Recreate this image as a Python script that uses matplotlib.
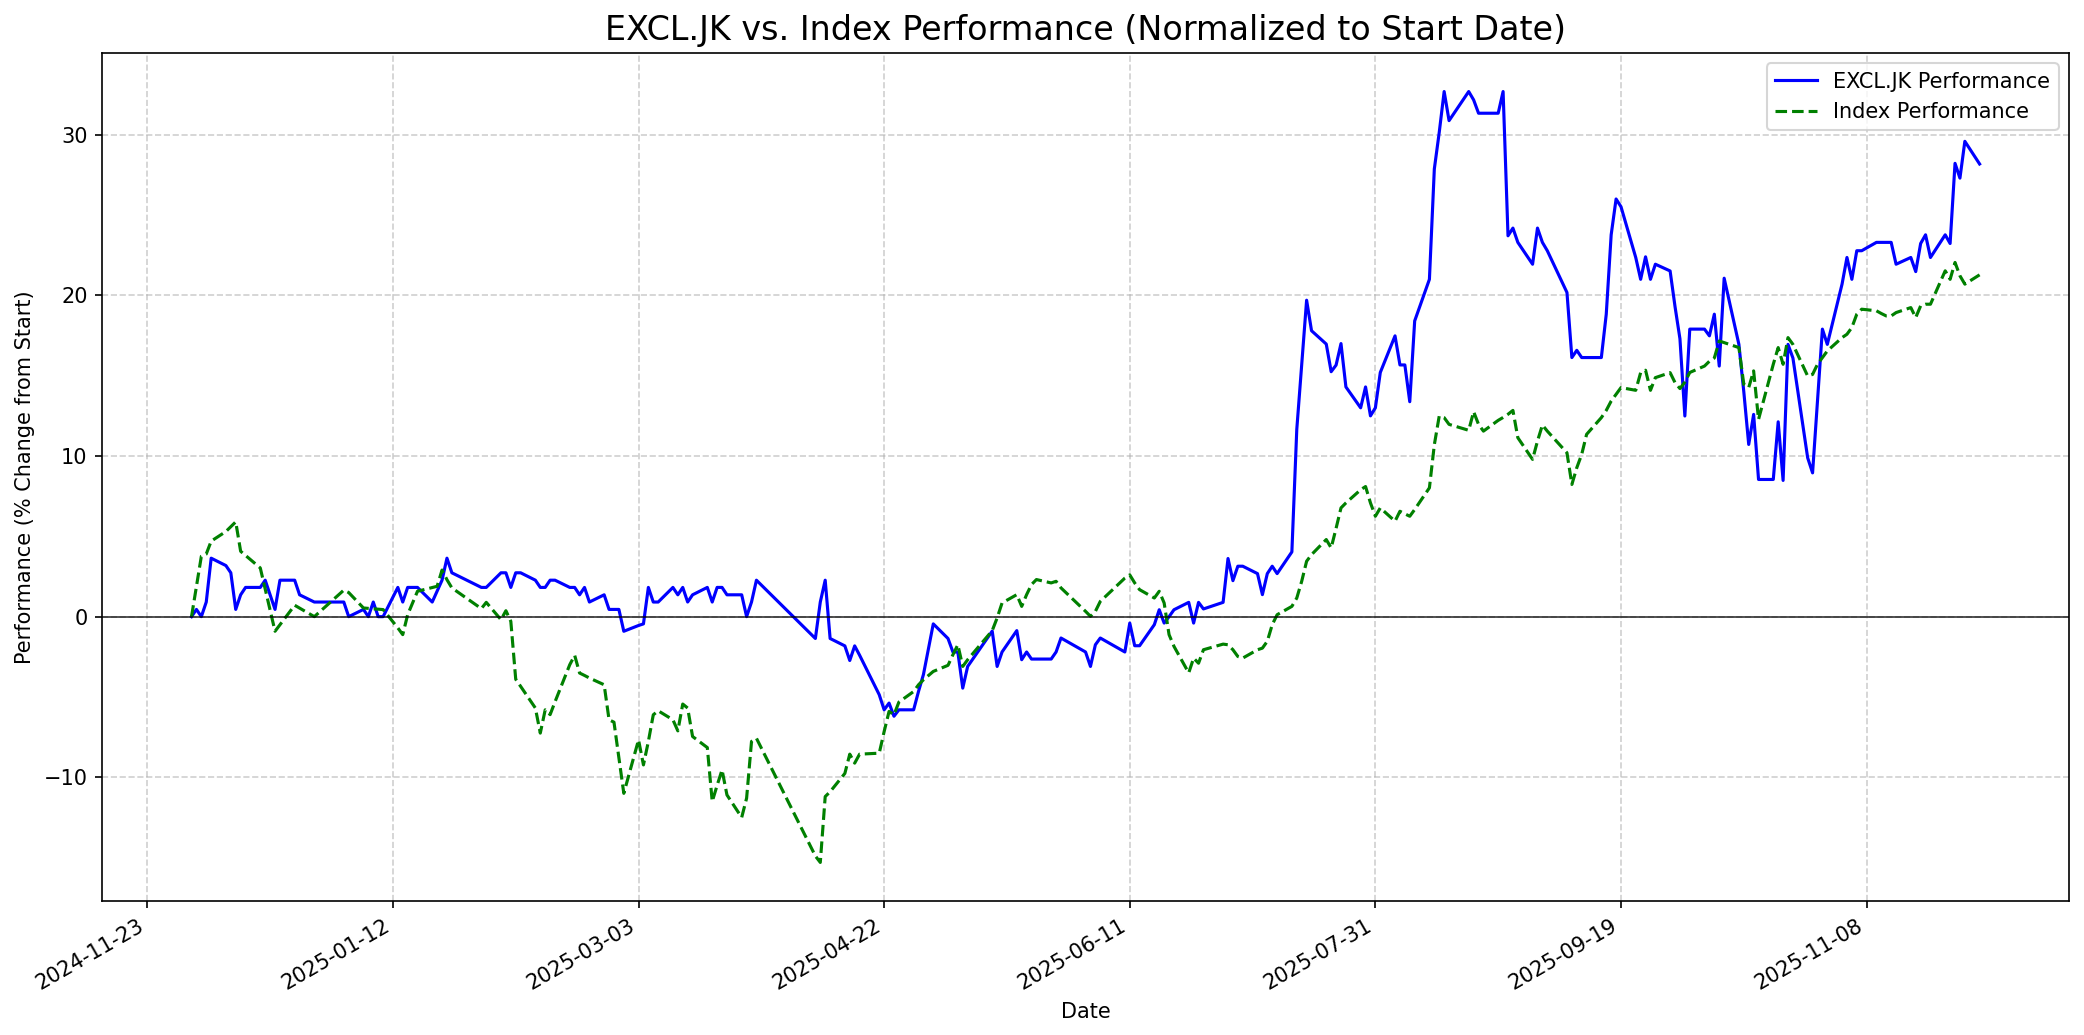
import matplotlib
matplotlib.use("Agg")
import matplotlib.pyplot as plt
import matplotlib.dates as mdates
import pandas as pd

# EXCL.JK, % change from 2024-12-02
exc_dates = [
    "2024-12-02", "2024-12-03", "2024-12-04", "2024-12-05", "2024-12-06", "2024-12-09", "2024-12-10",
    "2024-12-11", "2024-12-12", "2024-12-13", "2024-12-16", "2024-12-17", "2024-12-19", "2024-12-20",
    "2024-12-23", "2024-12-24", "2024-12-27",
    "2025-01-02", "2025-01-03", "2025-01-06", "2025-01-07", "2025-01-08", "2025-01-09", "2025-01-10",
    "2025-01-13", "2025-01-14", "2025-01-15", "2025-01-17", "2025-01-20", "2025-01-22", "2025-01-23",
    "2025-01-24", "2025-01-30", "2025-01-31",
    "2025-02-03", "2025-02-04", "2025-02-05", "2025-02-06", "2025-02-07", "2025-02-10", "2025-02-11",
    "2025-02-12", "2025-02-13", "2025-02-14", "2025-02-17", "2025-02-18", "2025-02-19", "2025-02-20",
    "2025-02-21", "2025-02-24", "2025-02-25", "2025-02-27", "2025-02-28",
    "2025-03-03", "2025-03-04", "2025-03-05", "2025-03-06", "2025-03-07", "2025-03-10", "2025-03-11",
    "2025-03-12", "2025-03-13", "2025-03-14", "2025-03-17", "2025-03-18", "2025-03-19", "2025-03-20",
    "2025-03-21", "2025-03-24", "2025-03-25", "2025-03-26", "2025-03-27",
    "2025-04-08", "2025-04-09", "2025-04-10", "2025-04-11", "2025-04-14", "2025-04-15", "2025-04-16",
    "2025-04-17", "2025-04-21", "2025-04-22", "2025-04-23", "2025-04-24", "2025-04-25", "2025-04-28",
    "2025-04-29", "2025-04-30",
    "2025-05-02", "2025-05-05", "2025-05-06", "2025-05-07", "2025-05-08", "2025-05-09", "2025-05-14",
    "2025-05-15", "2025-05-16", "2025-05-19", "2025-05-20", "2025-05-21", "2025-05-22", "2025-05-23",
    "2025-05-26", "2025-05-27", "2025-05-28",
    "2025-06-02", "2025-06-03", "2025-06-04", "2025-06-05", "2025-06-10", "2025-06-11", "2025-06-12",
    "2025-06-13", "2025-06-16", "2025-06-17", "2025-06-18", "2025-06-19", "2025-06-20", "2025-06-23",
    "2025-06-24", "2025-06-25", "2025-06-26", "2025-06-30",
    "2025-07-01", "2025-07-02", "2025-07-03", "2025-07-04", "2025-07-07", "2025-07-08", "2025-07-09",
    "2025-07-10", "2025-07-11", "2025-07-14", "2025-07-15", "2025-07-16", "2025-07-17", "2025-07-18",
    "2025-07-21", "2025-07-22", "2025-07-23", "2025-07-24", "2025-07-25", "2025-07-28", "2025-07-29",
    "2025-07-30", "2025-07-31",
    "2025-08-01", "2025-08-04", "2025-08-05", "2025-08-06", "2025-08-07", "2025-08-08", "2025-08-11",
    "2025-08-12", "2025-08-13", "2025-08-14", "2025-08-15", "2025-08-19", "2025-08-20", "2025-08-21",
    "2025-08-22", "2025-08-25", "2025-08-26", "2025-08-27", "2025-08-28", "2025-08-29",
    "2025-09-01", "2025-09-02", "2025-09-03", "2025-09-04", "2025-09-08", "2025-09-09", "2025-09-10",
    "2025-09-11", "2025-09-15", "2025-09-16", "2025-09-17", "2025-09-18", "2025-09-19", "2025-09-22",
    "2025-09-23", "2025-09-24", "2025-09-25", "2025-09-26", "2025-09-29", "2025-09-30",
    "2025-10-01", "2025-10-02", "2025-10-03", "2025-10-06", "2025-10-07", "2025-10-08", "2025-10-09",
    "2025-10-10", "2025-10-13", "2025-10-14", "2025-10-15", "2025-10-16", "2025-10-17", "2025-10-20",
    "2025-10-21", "2025-10-22", "2025-10-23", "2025-10-24", "2025-10-27", "2025-10-28", "2025-10-30",
    "2025-10-31",
    "2025-11-03", "2025-11-04", "2025-11-05", "2025-11-06", "2025-11-07", "2025-11-10", "2025-11-13",
    "2025-11-14", "2025-11-17", "2025-11-18", "2025-11-19", "2025-11-20", "2025-11-21", "2025-11-24",
    "2025-11-25", "2025-11-26", "2025-11-27", "2025-11-28", "2025-12-01",
]
exc_vals = [
    0.0, 0.45, 0.0, 0.91, 3.64, 3.18, 2.73, 0.45, 1.36, 1.82, 1.82, 2.27, 0.45, 2.27, 2.27, 1.36, 0.91,
    0.91, 0.0, 0.45, 0.0, 0.91, 0.0, 0.0, 1.82, 0.91, 1.82, 1.82, 0.91, 2.27, 3.64, 2.73, 1.82, 1.82,
    2.73, 2.73, 1.82, 2.73, 2.73, 2.27, 1.82, 1.82, 2.27, 2.27, 1.82, 1.82, 1.36, 1.82, 0.91, 1.36,
    0.45, 0.45, -0.91,
    -0.55, -0.45, 1.82, 0.91, 0.91, 1.82, 1.36, 1.82, 0.91, 1.36, 1.82, 0.91, 1.82, 1.82, 1.36, 1.36,
    0.0, 0.91, 2.27,
    -1.36, 0.91, 2.27, -1.36, -1.82, -2.73, -1.82, -2.4, -4.86, -5.8, -5.38, -6.2, -5.8, -5.8, -4.65,
    -3.6,
    -0.45, -1.36, -2.2, -2.2, -4.45, -3.1, -0.9, -3.1, -2.2, -0.87, -2.68, -2.2, -2.64, -2.64, -2.64,
    -2.2, -1.33,
    -2.2, -3.1, -1.75, -1.33, -2.2, -0.4, -1.81, -1.81, -0.5, 0.43, -0.4, 0.0, 0.43, 0.89, -0.4, 0.89,
    0.48, 0.89,
    3.62, 2.24, 3.14, 3.14, 2.68, 1.37, 2.68, 3.14, 2.68, 4.03, 11.66, 15.7, 19.7, 17.8, 16.97, 15.25,
    15.66, 17.0, 14.3, 13.0, 14.3, 12.5, 13.0,
    15.2, 17.48, 15.67, 15.67, 13.38, 18.41, 21.0, 27.87, 30.15, 32.69, 30.88, 32.69, 32.17, 31.34,
    31.34, 31.34, 32.69, 23.71, 24.19, 23.3,
    21.94, 24.19, 23.3, 22.78, 20.18, 16.13, 16.58, 16.13, 16.13, 18.83, 23.77, 26.0, 25.52, 22.36,
    21.0, 22.4, 21.0, 21.94, 21.52, 19.3,
    17.3, 12.49, 17.9, 17.9, 17.48, 18.83, 15.6, 21.07, 16.95, 14.0, 10.72, 12.59, 8.54, 8.54, 12.13,
    8.48, 16.95, 16.1, 9.89, 8.95, 17.9, 16.95,
    20.7, 22.36, 21.0, 22.78, 22.78, 23.3, 23.3, 21.94, 22.36, 21.48, 23.23, 23.77, 22.36, 23.77,
    23.23, 28.22, 27.3, 29.59, 28.18,
]

# index, % change from 2024-12-02
idx_dates = [
    "2024-12-02", "2024-12-04", "2024-12-05", "2024-12-06", "2024-12-09", "2024-12-10", "2024-12-11",
    "2024-12-12", "2024-12-16", "2024-12-19", "2024-12-23", "2024-12-27",
    "2025-01-02", "2025-01-03", "2025-01-06", "2025-01-10", "2025-01-13", "2025-01-14", "2025-01-15",
    "2025-01-17", "2025-01-21", "2025-01-22", "2025-01-23", "2025-01-24", "2025-01-30", "2025-01-31",
    "2025-02-03", "2025-02-04", "2025-02-05", "2025-02-06", "2025-02-07", "2025-02-10", "2025-02-11",
    "2025-02-12", "2025-02-13", "2025-02-14", "2025-02-17", "2025-02-18", "2025-02-19", "2025-02-20",
    "2025-02-21", "2025-02-24", "2025-02-25", "2025-02-26", "2025-02-27", "2025-02-28",
    "2025-03-03", "2025-03-04", "2025-03-05", "2025-03-06", "2025-03-07", "2025-03-10", "2025-03-11",
    "2025-03-12", "2025-03-13", "2025-03-14", "2025-03-17", "2025-03-18", "2025-03-19", "2025-03-20",
    "2025-03-21", "2025-03-24", "2025-03-25", "2025-03-26", "2025-03-27",
    "2025-04-08", "2025-04-09", "2025-04-10", "2025-04-11", "2025-04-14", "2025-04-15", "2025-04-16",
    "2025-04-17", "2025-04-21", "2025-04-22", "2025-04-23", "2025-04-24", "2025-04-25", "2025-04-28",
    "2025-04-29", "2025-04-30",
    "2025-05-02", "2025-05-05", "2025-05-06", "2025-05-07", "2025-05-08", "2025-05-09", "2025-05-14",
    "2025-05-15", "2025-05-16", "2025-05-19", "2025-05-20", "2025-05-21", "2025-05-22", "2025-05-23",
    "2025-05-26", "2025-05-27", "2025-05-28",
    "2025-06-02", "2025-06-03", "2025-06-04", "2025-06-05", "2025-06-10", "2025-06-11", "2025-06-12",
    "2025-06-13", "2025-06-16", "2025-06-17", "2025-06-18", "2025-06-19", "2025-06-20", "2025-06-23",
    "2025-06-24", "2025-06-25", "2025-06-26", "2025-06-30",
    "2025-07-01", "2025-07-02", "2025-07-03", "2025-07-04", "2025-07-07", "2025-07-08", "2025-07-09",
    "2025-07-10", "2025-07-11", "2025-07-14", "2025-07-15", "2025-07-16", "2025-07-17", "2025-07-18",
    "2025-07-21", "2025-07-22", "2025-07-23", "2025-07-24", "2025-07-25", "2025-07-28", "2025-07-29",
    "2025-07-30", "2025-07-31",
    "2025-08-01", "2025-08-04", "2025-08-05", "2025-08-06", "2025-08-07", "2025-08-08", "2025-08-11",
    "2025-08-12", "2025-08-13", "2025-08-14", "2025-08-15", "2025-08-19", "2025-08-20", "2025-08-21",
    "2025-08-22", "2025-08-25", "2025-08-26", "2025-08-27", "2025-08-28", "2025-08-29",
    "2025-09-01", "2025-09-02", "2025-09-03", "2025-09-04", "2025-09-08", "2025-09-09", "2025-09-10",
    "2025-09-11", "2025-09-12", "2025-09-15", "2025-09-16", "2025-09-17", "2025-09-18", "2025-09-19",
    "2025-09-22", "2025-09-23", "2025-09-24", "2025-09-25", "2025-09-26", "2025-09-29", "2025-09-30",
    "2025-10-01", "2025-10-02", "2025-10-03", "2025-10-06", "2025-10-07", "2025-10-08", "2025-10-09",
    "2025-10-10", "2025-10-13", "2025-10-14", "2025-10-15", "2025-10-16", "2025-10-17", "2025-10-20",
    "2025-10-21", "2025-10-22", "2025-10-23", "2025-10-24", "2025-10-27", "2025-10-28", "2025-10-29",
    "2025-10-30", "2025-10-31",
    "2025-11-03", "2025-11-04", "2025-11-05", "2025-11-06", "2025-11-07", "2025-11-10", "2025-11-11",
    "2025-11-12", "2025-11-13", "2025-11-14", "2025-11-17", "2025-11-18", "2025-11-19", "2025-11-20",
    "2025-11-21", "2025-11-24", "2025-11-25", "2025-11-26", "2025-11-27", "2025-11-28", "2025-12-01",
]
idx_vals = [
    0.0, 3.76, 3.9, 4.7, 5.3, 5.6, 5.9, 4.07, 3.03, -0.91, 0.71, 0.0,
    1.65, 1.5, 0.54, 0.44, -0.7, -1.12, 0.12, 1.58, 1.89, 2.9, 2.3, 1.79, 0.5, 0.89,
    -0.19, 0.37, -0.29, -3.9, -4.34, -5.69, -7.25, -5.8, -6.1, -5.3, -2.99, -2.41, -3.51, -3.66,
    -3.82, -4.24, -6.42, -6.57, -8.8, -11.0,
    -7.67, -9.23, -7.77, -6.11, -5.86, -6.42, -7.11, -5.44, -5.69, -7.46, -8.15, -11.51, -10.5,
    -9.54, -11.1, -12.5, -11.3, -7.77, -7.57,
    -14.9, -15.3, -11.2, -10.9, -9.76, -8.56, -9.12, -8.56, -8.5, -7.15, -5.9, -6.11, -5.32, -4.66,
    -4.24, -3.93,
    -3.41, -3.03, -2.37, -1.75, -3.1, -2.68, -0.87, -0.08, 0.85, 1.37, 0.64, 1.37, 2.0, 2.31, 2.1,
    2.2, 1.79,
    0.33, 0.02, 0.33, 0.95, 2.4, 2.6, 2.1, 1.68, 1.16, 1.58, 0.85, -1.12, -1.85, -3.5, -2.58, -2.9,
    -2.06, -1.71,
    -1.75, -2.06, -2.48, -2.58, -2.06, -1.96, -1.53, -0.5, 0.12, 0.64, 1.16, 2.2, 3.45, 3.86, 4.8,
    4.28, 5.5, 6.77, 7.08, 7.9, 8.1, 7.08, 6.25,
    6.77, 5.94, 6.56, 6.4, 6.25, 6.67, 8.02, 10.7, 12.49, 12.39, 11.97, 11.6, 12.76, 11.97, 11.55,
    12.22, 12.4, 12.6, 12.84, 11.14,
    9.79, 10.93, 11.93, 11.55, 10.2, 8.23, 9.27, 10.1, 11.35, 12.39, 12.84, 13.42, 13.84, 14.26,
    14.09, 15.19, 15.34, 14.09, 14.88, 15.19, 14.57,
    14.2, 14.6, 15.2, 15.6, 15.9, 16.1, 17.16, 17.06, 16.75, 14.46, 14.26, 15.3, 12.28, 15.71, 16.75,
    15.71, 17.37, 16.95, 14.98, 15.08, 15.71, 16.13, 16.54,
    17.37, 17.58, 18.0, 18.83, 19.14, 19.04, 18.87, 18.72, 18.72, 18.93, 19.24, 18.62, 19.35, 19.45,
    19.45, 21.53, 21.0, 22.05, 21.22, 20.7, 21.28,
]

tick_dates = ["2024-11-23", "2025-01-12", "2025-03-03", "2025-04-22",
              "2025-06-11", "2025-07-31", "2025-09-19", "2025-11-08"]

fig, ax = plt.subplots(figsize=(2084 / 150, 1035 / 150), dpi=150)

ax.plot(pd.to_datetime(exc_dates), exc_vals, color='blue', label='EXCL.JK Performance')
ax.plot(pd.to_datetime(idx_dates), idx_vals, color='green', ls='--', label='Index Performance')
ax.axhline(0, color='black', lw=0.8, alpha=0.8)

ax.set_title('EXCL.JK vs. Index Performance (Normalized to Start Date)', fontsize=16)
ax.set_xlabel('Date')
ax.set_ylabel('Performance (% Change from Start)')
ax.set_xticks(pd.to_datetime(tick_dates))
ax.xaxis.set_major_formatter(mdates.DateFormatter('%Y-%m-%d'))
ax.grid(True, ls='--', alpha=0.6)
ax.legend(loc='upper right')

fig.autofmt_xdate()
fig.subplots_adjust(left=0.049, right=0.9928, top=0.9488, bottom=0.1295)
fig.savefig('out.png', dpi=150)
